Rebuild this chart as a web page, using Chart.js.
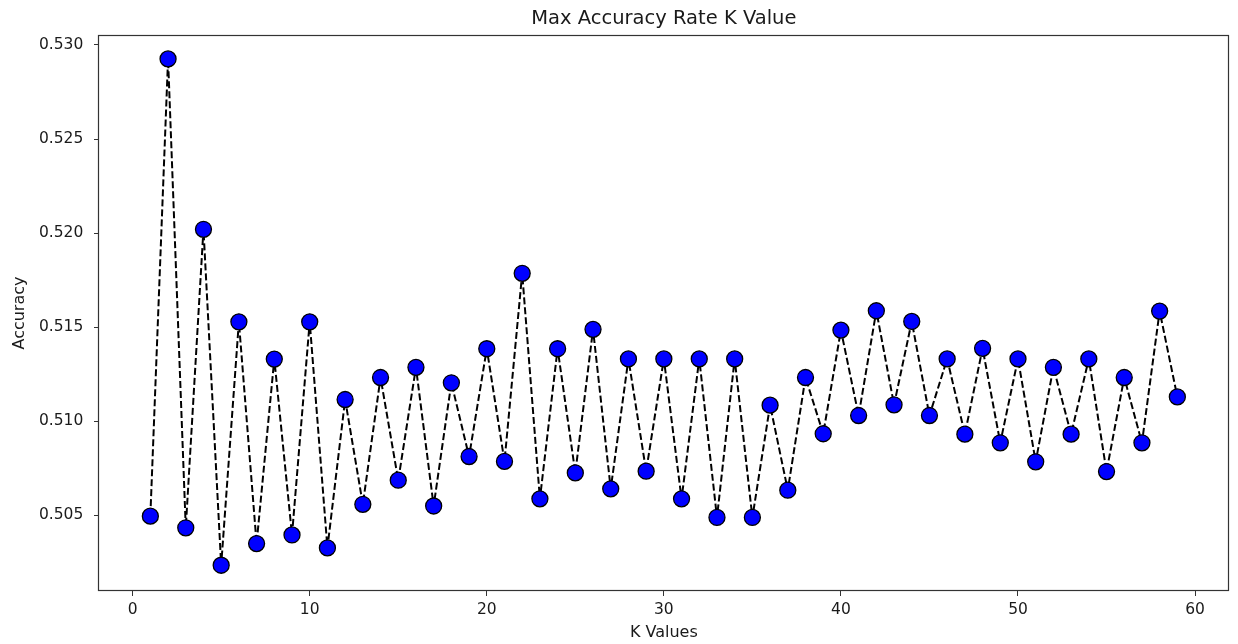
<!DOCTYPE html>
<html>
<head>
<meta charset="utf-8">
<script src="https://cdn.jsdelivr.net/npm/chart.js@4.4.1/dist/chart.umd.min.js"></script>
<style>
  html, body { margin: 0; padding: 0; background: #ffffff; overflow: hidden; }
  #wrap { width: 1238px; height: 644px; position: relative; }
  canvas { display: block; }
</style>
</head>
<body>
<div id="wrap"><canvas id="c"></canvas></div>
<script>
// ---- data ----
const kValues = [1,2,3,4,5,6,7,8,9,10,11,12,13,14,15,16,17,18,19,20,
                 21,22,23,24,25,26,27,28,29,30,31,32,33,34,35,36,37,38,39,40,
                 41,42,43,44,45,46,47,48,49,50,51,52,53,54,55,56,57,58,59];
const accuracy = [0.50495,0.52926,0.50433,0.52020,0.50234,0.51528,0.50349,0.51330,0.50395,0.51528,
                  0.50326,0.51115,0.50558,0.51232,0.50686,0.51286,0.50549,0.51204,0.50812,0.51385,
                  0.50786,0.51786,0.50587,0.51385,0.50725,0.51488,0.50640,0.51331,0.50734,0.51331,
                  0.50587,0.51331,0.50488,0.51331,0.50488,0.51085,0.50633,0.51232,0.50933,0.51484,
                  0.51030,0.51587,0.51087,0.51530,0.51030,0.51331,0.50931,0.51387,0.50885,0.51331,
                  0.50784,0.51286,0.50931,0.51331,0.50732,0.51232,0.50885,0.51585,0.51129];
const xTicks = [0, 10, 20, 30, 40, 50, 60];
const yTicks = [0.505, 0.510, 0.515, 0.520, 0.525, 0.530];
const titleText = 'Max Accuracy Rate K Value';
const xLabel = 'K Values';
const yLabel = 'Accuracy';

const FONT = "'DejaVu Sans', sans-serif";
const TXT = '#1a1a1a';
const AX = '#333333';

const framePlugin = {
  id: 'frame',
  afterDraw(chart) {
    const a = chart.chartArea, ctx = chart.ctx;
    ctx.save();
    ctx.strokeStyle = AX;
    ctx.lineWidth = 1.2;
    ctx.strokeRect(Math.round(a.left) - 0.5, Math.round(a.top) + 0.5,
                   Math.round(a.right - a.left), Math.round(a.bottom - a.top) - 1);
    ctx.restore();
  }
};

new Chart(document.getElementById('c'), {
  type: 'line',
  data: {
    datasets: [{
      data: kValues.map((k, i) => ({ x: k, y: accuracy[i] })),
      borderColor: '#000000',
      borderWidth: 2,
      borderDash: [7, 3],
      pointRadius: 8,
      pointHoverRadius: 8,
      pointBackgroundColor: '#0000ff',
      pointBorderColor: '#000000',
      pointBorderWidth: 1.3,
      tension: 0,
      fill: false
    }]
  },
  options: {
    responsive: true,
    maintainAspectRatio: false,
    animation: false,
    layout: { padding: { left: 0, right: 1, top: 0, bottom: 0 } },
    plugins: {
      legend: { display: false },
      tooltip: { enabled: false },
      title: {
        display: true,
        text: titleText,
        fullSize: false,
        color: TXT,
        font: { family: FONT, size: 19.5, weight: 'normal' },
        padding: { top: 7, bottom: 4.6 }
      }
    },
    scales: {
      x: {
        type: 'linear',
        min: -1.9,
        max: 61.9,
        afterBuildTicks: s => { s.ticks = xTicks.map(v => ({ value: v })); },
        afterFit: s => { s.height = 53; s.paddingLeft = 0; s.paddingRight = 0; },
        border: { display: false },
        grid: { display: true, drawOnChartArea: false, drawTicks: true, tickLength: 5, color: AX, lineWidth: 1 },
        ticks: { color: TXT, font: { family: FONT, size: 15.5 }, padding: 5, maxRotation: 0, callback: v => String(v) },
        title: { display: true, text: xLabel, color: TXT, font: { family: FONT, size: 16 }, padding: { top: 0, bottom: 1.5 } }
      },
      y: {
        type: 'linear',
        min: 0.50097,
        max: 0.53053,
        afterBuildTicks: s => { s.ticks = yTicks.map(v => ({ value: v })); },
        afterFit: s => { s.width = 99; s.paddingTop = 0; s.paddingBottom = 0; },
        border: { display: false },
        grid: { display: true, drawOnChartArea: false, drawTicks: true, tickLength: 5, color: AX, lineWidth: 1 },
        ticks: { color: TXT, font: { family: FONT, size: 15.5 }, padding: 10.7, callback: v => Number(v).toFixed(3) },
        title: { display: true, text: yLabel, color: TXT, font: { family: FONT, size: 16 }, padding: { top: 10, bottom: 0 } }
      }
    }
  },
  plugins: [framePlugin]
});
</script>
</body>
</html>
